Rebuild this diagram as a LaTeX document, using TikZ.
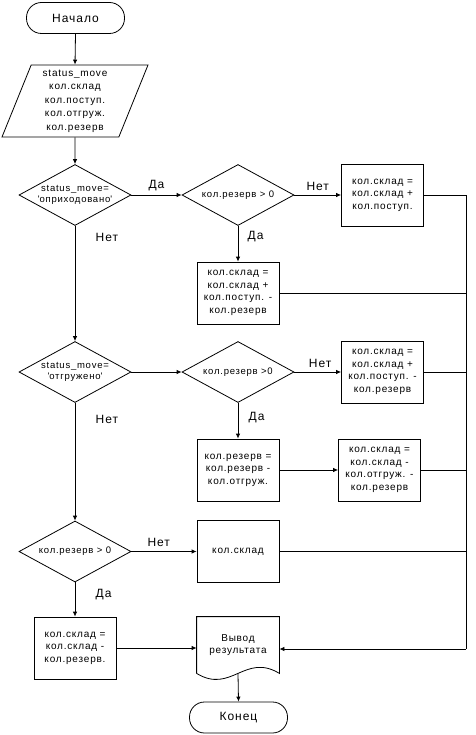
\documentclass[tikz,border=0pt]{standalone}
\usepackage{fontspec}
\setmainfont{Liberation Sans}[LetterSpace=8]
\usetikzlibrary{shapes.geometric,arrows.meta}

\begin{document}
\begin{tikzpicture}[x=1pt,y=1pt,line width=0.8pt,
        >={Latex[length=5pt,width=4.5pt]},
        terminal/.style={draw,rectangle,rounded corners=15pt,minimum width=98pt,minimum height=31pt,font=\fontsize{12}{14}\selectfont},
        inbox/.style={draw,trapezium,trapezium left angle=65,trapezium right angle=115,trapezium stretches body,minimum width=146pt,minimum height=72pt,inner sep=0pt,align=center,font=\fontsize{10}{13.5}\selectfont},
        decision/.style={draw,diamond,aspect=2,inner xsep=-15pt,inner ysep=0pt,minimum width=112pt,minimum height=61pt,align=center,font=\fontsize{9.5}{11}\selectfont},
        procbox/.style={draw,rectangle,minimum width=82pt,minimum height=62pt,align=center,font=\fontsize{10}{12.5}\selectfont},
        docbox/.style={rectangle,minimum width=82pt,minimum height=56pt,align=center,font=\fontsize{10}{12.5}\selectfont},
        lbl/.style={font=\fontsize{12}{14}\selectfont}]
        \useasboundingbox (0,0) rectangle (475,-735);

        \node[terminal] (start) at (75.5,-18) {Начало};
        \node[inbox] (inp) at (75,-101) {status\_move\\кол.склад\\кол.поступ.\\кол.отгруж.\\кол.резерв};

        \node[decision] (d1) at (75,-195) {status\_move=\\\textquotesingle оприходовано\textquotesingle};
        \node[decision] (d2) at (238,-195) {кол.резерв > 0};
        \node[procbox] (b1) at (382.5,-195) {кол.склад =\\кол.склад +\\кол.поступ.};
        \node[procbox] (b2) at (238,-293) {кол.склад =\\кол.склад +\\кол.поступ. -\\кол.резерв};

        \node[decision] (d3) at (75,-372) {status\_move=\\\textquotesingle отгружено\textquotesingle};
        \node[decision] (d4) at (238,-372) {кол.резерв >0};
        \node[procbox] (b3) at (382.5,-372) {кол.склад =\\кол.склад +\\кол.поступ. -\\кол.резерв};
        \node[procbox] (b4) at (238,-470) {кол.резерв =\\кол.резерв -\\кол.отгруж.};
        \node[procbox] (b5) at (379.5,-470) {кол.склад =\\кол.склад -\\кол.отгруж. -\\кол.резерв};

        \node[decision] (d5) at (75,-551.5) {кол.резерв > 0};
        \node[procbox] (b6) at (238,-551.5) {кол.склад};
        \node[procbox] (b7) at (75,-648) {кол.склад =\\кол.склад -\\кол.резерв.};
        \node[docbox] (out) at (238,-645) {Вывод\\результата};
        \node[terminal] (stop) at (238.5,-717.5) {Конец};

        % document shape with wavy bottom
        \draw (out.south west) -- (out.north west) -- (out.north east) -- (out.south east)
            .. controls +(-34.5,21) and +(34.5,-21) .. (out.south west);

        \coordinate (busA) at (466,-195);
        \coordinate (busB) at (466,-649);

        \path [->] (start.south) edge (inp.north);
        \path [->] (inp.south) edge (d1.north);
        \path [->] (d1.east) edge node[lbl,above] {Да} (d2.west);
        \path [->] (d2.east) edge node[lbl,above=1pt] {Нет} (b1.west);
        \path [->] (d2.south) edge node[lbl,pos=0.3,right=6pt] {Да} (b2.north);
        \path [->] (d1.south) edge node[lbl,pos=0.1,right=17pt] {Нет} (d3.north);

        \path [->] (d3.east) edge (d4.west);
        \path [->] (d4.east) edge node[lbl,pos=0.55,above=1pt] {Нет} (b3.west);
        \path [->] (d4.south) edge node[lbl,pos=0.4,right=7pt] {Да} (b4.north);
        \path [->] (b4.east) edge (b5.west);
        \path [->] (d3.south) edge node[lbl,pos=0.14,right=17pt] {Нет} (d5.north);

        \path [->] (d5.east) edge node[lbl,pos=0.42,above=1pt] {Нет} (b6.west);
        \path [->] (d5.south) edge node[lbl,pos=0.35,right=17pt] {Да} (b7.north);
        \path [->] (b7.east) edge (b7.east -| out.west);
        \path [->] (out.south) edge (stop.north);

        % collecting line on the right
        \draw (b1.east) -- (busA) -- (busB);
        \draw (b2.east) -- (b2.east -| busA);
        \draw (b3.east) -- (b3.east -| busA);
        \draw (b5.east) -- (b5.east -| busA);
        \draw (b6.east) -- (b6.east -| busA);
        \path [->] (busB) edge (busB -| out.east);
    \end{tikzpicture}
\end{document}
